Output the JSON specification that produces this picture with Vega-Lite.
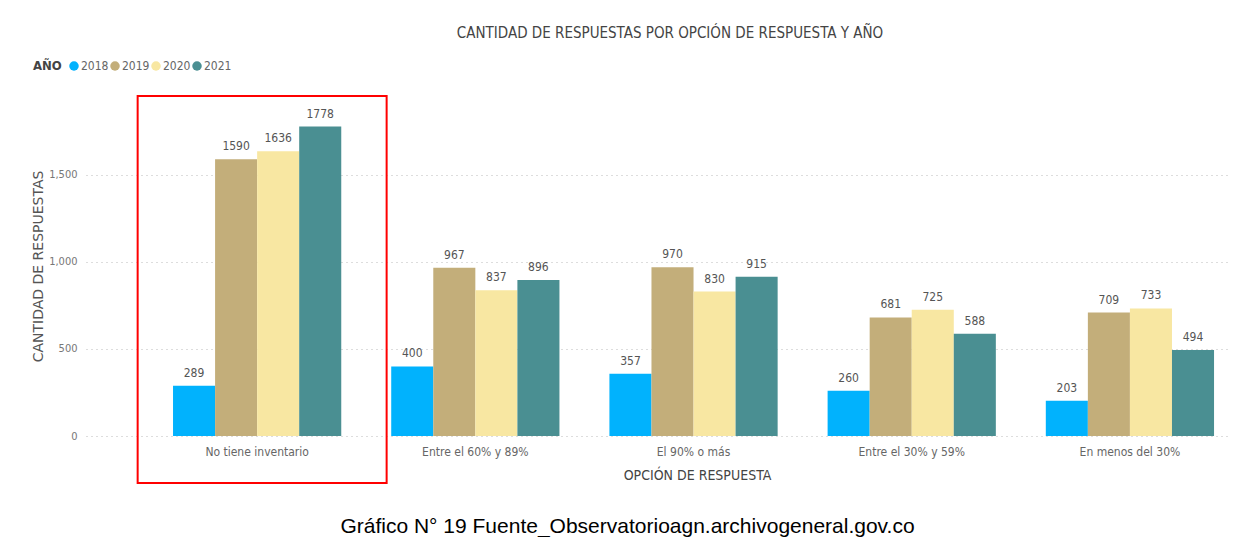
{
  "$schema": "https://vega.github.io/schema/vega-lite/v6.json",
  "width": 1144,
  "height": 326,
  "autosize": {"type": "none"},
  "padding": {"left": 86, "top": 110, "right": 27, "bottom": 101},
  "background": "white",
  "title": {
    "text": "CANTIDAD DE RESPUESTAS POR OPCIÓN DE RESPUESTA Y AÑO",
    "font": "DejaVu Sans Condensed",
    "fontSize": 15,
    "fontWeight": "normal",
    "color": "#444444",
    "anchor": "middle",
    "dx": 12,
    "dy": -15
  },
  "config": {
    "view": {"stroke": null},
    "font": "DejaVu Sans Condensed"
  },
  "data": {
    "values": [
      {"opcion": "No tiene inventario", "anio": "2018", "valor": 289},
      {"opcion": "No tiene inventario", "anio": "2019", "valor": 1590},
      {"opcion": "No tiene inventario", "anio": "2020", "valor": 1636},
      {"opcion": "No tiene inventario", "anio": "2021", "valor": 1778},
      {"opcion": "Entre el 60% y 89%", "anio": "2018", "valor": 400},
      {"opcion": "Entre el 60% y 89%", "anio": "2019", "valor": 967},
      {"opcion": "Entre el 60% y 89%", "anio": "2020", "valor": 837},
      {"opcion": "Entre el 60% y 89%", "anio": "2021", "valor": 896},
      {"opcion": "El 90% o más", "anio": "2018", "valor": 357},
      {"opcion": "El 90% o más", "anio": "2019", "valor": 970},
      {"opcion": "El 90% o más", "anio": "2020", "valor": 830},
      {"opcion": "El 90% o más", "anio": "2021", "valor": 915},
      {"opcion": "Entre el 30% y 59%", "anio": "2018", "valor": 260},
      {"opcion": "Entre el 30% y 59%", "anio": "2019", "valor": 681},
      {"opcion": "Entre el 30% y 59%", "anio": "2020", "valor": 725},
      {"opcion": "Entre el 30% y 59%", "anio": "2021", "valor": 588},
      {"opcion": "En menos del 30%", "anio": "2018", "valor": 203},
      {"opcion": "En menos del 30%", "anio": "2019", "valor": 709},
      {"opcion": "En menos del 30%", "anio": "2020", "valor": 733},
      {"opcion": "En menos del 30%", "anio": "2021", "valor": 494}
    ]
  },
  "resolve": {"axis": {"x": "independent"}},
  "layer": [
    {
      "mark": {"type": "bar"},
      "encoding": {
        "x": {
          "field": "opcion",
          "type": "nominal",
          "sort": ["No tiene inventario", "Entre el 60% y 89%", "El 90% o más", "Entre el 30% y 59%", "En menos del 30%"],
          "scale": {"paddingInner": 0.229, "paddingOuter": 0.236, "align": 0.845},
          "axis": {
            "orient": "bottom",
            "title": "OPCIÓN DE RESPUESTA",
            "labelAngle": 0,
            "labelFontSize": 12,
            "labelColor": "#666666",
            "labelPadding": 10,
            "domain": false,
            "ticks": false,
            "grid": false,
            "titleFontSize": 14,
            "titleFontWeight": "normal",
            "titleColor": "#444444",
            "titleX": 611,
            "titleY": 39,
            "titleAnchor": null,
            "titleAlign": "center",
            "titleBaseline": "middle"
          }
        },
        "xOffset": {"field": "anio", "type": "nominal", "scale": {"paddingInner": 0, "paddingOuter": 0}},
        "y": {
          "field": "valor",
          "type": "quantitative",
          "scale": {"domain": [0, 1873], "nice": false},
          "axis": {
            "title": "CANTIDAD DE RESPUESTAS",
            "values": [0, 500, 1000, 1500],
            "format": ",.0f",
            "grid": true,
            "gridDash": [1, 4],
            "gridColor": "#bbbbbb",
            "domain": false,
            "ticks": false,
            "labelPadding": 9,
            "labelColor": "#777777",
            "labelFontSize": 11,
            "titleFont": "DejaVu Sans",
            "titleFontSize": 14,
            "titleFontWeight": "normal",
            "titleColor": "#555555",
            "titleX": -48,
            "titleY": 156,
            "titleAngle": -90,
            "titleAlign": "center",
            "titleBaseline": "middle",
            "titleAnchor": null
          }
        },
        "color": {
          "field": "anio",
          "type": "nominal",
          "scale": {"domain": ["2018", "2019", "2020", "2021"], "range": ["#01B2FD", "#C3AE7A", "#F8E7A2", "#4A8F92"]},
          "legend": {
            "orient": "none",
            "legendX": -53,
            "legendY": -50,
            "direction": "horizontal",
            "title": "AÑO",
            "titleOrient": "left",
            "titleFontSize": 13,
            "titleFontWeight": "bold",
            "titleColor": "#444444",
            "titlePadding": 6,
            "labelFontSize": 12,
            "labelColor": "#666666",
            "symbolType": "circle",
            "symbolSize": 90,
            "symbolStrokeWidth": 0,
            "labelOffset": 1,
            "columnPadding": 0
          }
        }
      }
    },
    {
      "mark": {"type": "text", "baseline": "bottom", "dy": -6, "fontSize": 12, "color": "#555555"},
      "encoding": {
        "x": {"field": "opcion", "type": "nominal", "sort": ["No tiene inventario", "Entre el 60% y 89%", "El 90% o más", "Entre el 30% y 59%", "En menos del 30%"], "axis": null},
        "xOffset": {"field": "anio", "type": "nominal"},
        "y": {"field": "valor", "type": "quantitative"},
        "text": {"field": "valor", "type": "quantitative", "format": "d"}
      }
    },
    {
      "data": {"values": [{"opcion": "No tiene inventario"}]},
      "mark": {"type": "bar", "fill": null, "fillOpacity": 0, "stroke": "#FF0000", "strokeWidth": 2, "width": {"band": 1.48}, "xOffset": 5},
      "encoding": {
        "x": {
          "field": "opcion",
          "type": "nominal",
          "sort": ["No tiene inventario", "Entre el 60% y 89%", "El 90% o más", "Entre el 30% y 59%", "En menos del 30%"],
          "axis": {
            "orient": "bottom",
            "title": "Gráfico N° 19 Fuente_Observatorioagn.archivogeneral.gov.co",
            "labels": false,
            "ticks": false,
            "domain": false,
            "grid": false,
            "titleFont": "Liberation Sans, Arial",
            "titleFontSize": 21,
            "titleFontWeight": "normal",
            "titleColor": "#000000",
            "titleX": 541,
            "titleY": 96,
            "titleAnchor": null,
            "titleAlign": "center",
            "titleBaseline": "alphabetic"
          }
        },
        "y": {"datum": -270, "type": "quantitative"},
        "y2": {"datum": 1953}
      }
    }
  ]
}
